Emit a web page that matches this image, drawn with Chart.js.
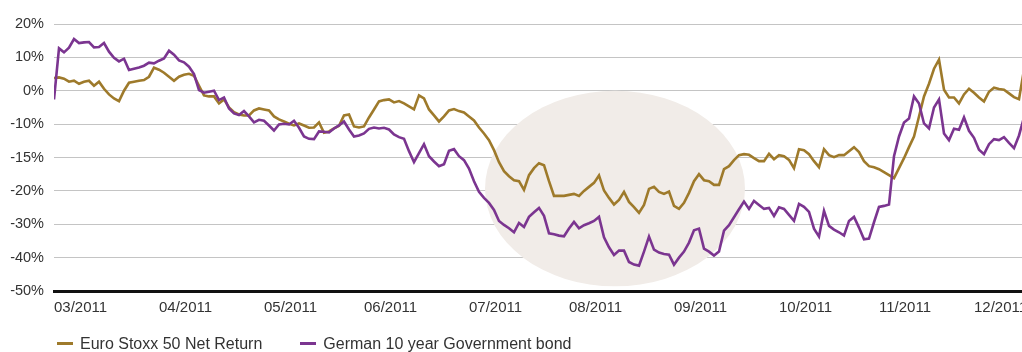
<!DOCTYPE html>
<html>
<head>
<meta charset="utf-8">
<script src="https://cdn.jsdelivr.net/npm/chart.js@4/dist/chart.umd.min.js"></script>
<style>
    body { margin: 0; background: #fff; }
    #wrap { position: relative; width: 1022px; height: 352px; }
    #legend {
        position: absolute; left: 57px; top: 335px;
        font: 16px 'Liberation Sans', Arial, sans-serif; color: #333;
        display: flex; gap: 38px; white-space: nowrap;
    }
    #legend span.swatch {
        display: inline-block; width: 16px; height: 3px;
        vertical-align: middle; margin-right: 7px; margin-top: -2px;
    }
</style>
</head>
<body>
<div id="wrap">
    <canvas id="chart" width="1022" height="352"></canvas>
    <div id="legend"></div>
</div>
<script>
// series names
const seriesNames = ['Euro Stoxx 50 Net Return', 'German 10 year Government bond']

// month ticks (trading day index) and their labels
const monthTicks = [0, 21, 42, 62, 83, 103, 124, 145, 165, 184]
const monthLabels = ['03/2011', '04/2011', '05/2011', '06/2011', '07/2011', '08/2011', '09/2011', '10/2011', '11/2011', '12/2011']

// y gridlines run 20 .. -60 in steps of 10, printed with these labels
const yTickLabels = ['20%', '10%', '0%', '-10%', '-15%', '-20%', '-30%', '-40%', '-50%']

// daily values, one per trading day
const euroStoxx = [
    3.8, 4.0, 3.6, 2.7, 3.0, 2.1, 2.7, 3.0, 1.5, 2.7,
    0.6, -1.1, -2.3, -3.1, 0.0, 2.4, 2.7, 3.0, 3.2, 4.2,
    6.9, 6.3, 5.4, 4.2, 3.0, 4.2, 4.8, 5.1, 4.5, 1.5,
    -1.4, -1.7, -1.7, -3.8, -2.6, -5.0, -6.4, -7.1, -7.4, -7.4,
    -5.9, -5.3, -5.6, -5.9, -7.7, -8.6, -9.2, -9.9, -10.4, -9.8,
    -10.4, -11.1, -11.0, -9.5, -12.6, -12.2, -11.3, -10.5, -7.4, -7.1,
    -10.7, -11.0, -10.7, -8.0, -5.6, -3.2, -2.8, -2.6, -3.5, -3.1,
    -3.8, -4.7, -5.6, -1.4, -2.3, -5.6, -7.4, -9.2, -7.7, -5.9,
    -5.5, -6.1, -6.5, -7.7, -8.9, -11.0, -12.8, -14.8, -17.8, -21.4,
    -24.1, -25.6, -26.8, -27.1, -29.7, -25.3, -23.2, -21.7, -22.3, -27.1,
    -31.5, -31.5, -31.5, -31.2, -30.9, -31.5, -30.0, -28.8, -27.6, -25.4,
    -29.9, -32.1, -34.1, -32.7, -30.3, -33.3, -34.9, -36.6, -34.2, -29.4,
    -28.8, -30.3, -30.9, -30.2, -34.5, -35.4, -33.6, -30.6, -27.1, -25.0,
    -26.8, -27.1, -28.2, -28.2, -23.5, -22.6, -20.8, -19.3, -19.0, -19.2,
    -20.2, -21.1, -21.1, -18.9, -20.5, -19.3, -19.6, -20.7, -23.2, -17.5,
    -17.8, -19.0, -21.1, -22.9, -17.5, -19.3, -19.9, -19.3, -19.3, -18.1,
    -16.9, -18.4, -21.1, -22.6, -22.9, -23.5, -24.4, -25.3, -26.2, -23.2,
    -20.2, -16.9, -13.7, -7.7, -1.7, 2.1, 6.6, 9.3, 0.3, -2.0,
    -2.0, -3.8, -1.1, 0.6, -0.6, -2.0, -3.2, -0.3, 0.9, 0.5,
    0.3, -0.8, -1.9, -2.5, 6.3
]

const germanBond = [
    -2.6, 12.7, 11.5, 12.9, 15.5, 14.3, 14.5, 14.6, 13.0, 13.1,
    14.3, 11.7, 9.9, 8.8, 9.6, 6.2, 6.6, 7.0, 7.5, 8.4,
    8.2, 9.0, 9.7, 12.0, 10.8, 9.1, 8.5, 7.2, 5.0, 0.2,
    -0.6, -0.3, 0.0, -2.8, -2.0, -5.3, -6.8, -7.3, -6.1, -7.7,
    -9.5, -8.7, -9.0, -10.4, -11.9, -10.1, -9.9, -10.1, -9.0, -11.1,
    -13.7, -14.4, -14.5, -12.2, -12.3, -12.5, -11.3, -10.4, -9.2, -11.6,
    -13.7, -13.4, -12.8, -11.4, -11.0, -11.3, -11.1, -11.6, -13.1, -13.9,
    -14.4, -18.1, -21.4, -18.7, -16.0, -19.6, -21.2, -22.6, -22.0, -18.0,
    -17.5, -19.6, -20.8, -23.3, -27.1, -30.3, -32.1, -33.6, -35.7, -39.0,
    -40.2, -41.2, -42.4, -39.6, -40.8, -37.8, -36.4, -35.1, -37.5, -42.7,
    -43.0, -43.4, -43.6, -41.3, -39.3, -41.2, -40.3, -39.7, -39.0, -37.8,
    -43.9, -46.9, -49.2, -47.9, -47.9, -51.3, -52.1, -52.4, -48.2, -43.7,
    -47.6, -48.5, -48.9, -49.1, -52.1, -50.0, -48.2, -45.5, -41.8, -41.3,
    -47.3, -48.2, -49.4, -48.2, -41.9, -40.3, -37.9, -35.5, -33.2, -35.4,
    -33.0, -34.2, -35.4, -35.1, -37.5, -34.9, -35.4, -37.2, -39.0, -33.9,
    -34.8, -36.3, -41.3, -43.7, -36.0, -40.5, -41.6, -42.4, -43.4, -39.0,
    -37.8, -41.0, -44.5, -44.3, -39.4, -34.8, -34.5, -34.1, -19.6, -13.7,
    -9.5, -8.3, -1.7, -3.8, -9.8, -11.3, -5.0, -2.6, -12.8, -14.8,
    -11.4, -11.7, -8.0, -12.0, -14.1, -17.7, -19.0, -16.0, -14.5, -14.8,
    -13.9, -15.6, -17.2, -13.4, -8.0
]
//--------------------------------------------------------------------------------

const colors = ['#9e7a2b', '#7b3590']
const fontFamily = "'Liberation Sans', Arial, sans-serif"

// shaded oval behind the summer sell-off (x in trading days, y in axis units)
const oval = { x0: 86.2, x1: 138.2, y0: 0, y1: -58.6, color: '#f1ece8' }

const ovalPlugin = {
    id: 'oval',
    beforeDatasetsDraw(chart) {
        const { ctx, scales: { x, y } } = chart
        const left = x.getPixelForValue(oval.x0)
        const right = x.getPixelForValue(oval.x1)
        const top = y.getPixelForValue(oval.y0)
        const bottom = y.getPixelForValue(oval.y1)
        ctx.save()
        ctx.fillStyle = oval.color
        ctx.beginPath()
        ctx.ellipse((left + right) / 2, (top + bottom) / 2, (right - left) / 2, (bottom - top) / 2, 0, 0, Math.PI * 2)
        ctx.fill()
        ctx.restore()
    }
}

function toPoints(values) {
    return values.map((v, i) => ({ x: i, y: v }))
}

const ctx = document.getElementById('chart').getContext('2d')
const chart = new Chart(ctx, {
    type: 'line',
    data: {
        datasets: [
            {
                label: seriesNames[0],
                data: toPoints(euroStoxx),
                borderColor: colors[0],
                borderWidth: 2.6,
                pointRadius: 0,
                tension: 0,
                order: 2
            },
            {
                label: seriesNames[1],
                data: toPoints(germanBond),
                borderColor: colors[1],
                borderWidth: 2.6,
                pointRadius: 0,
                tension: 0,
                order: 1
            }
        ]
    },
    options: {
        responsive: false,
        animation: false,
        events: [],
        layout: { padding: { top: 24, bottom: 27, left: 0, right: 0 } },
        plugins: {
            legend: { display: false },
            tooltip: { enabled: false }
        },
        scales: {
            x: {
                type: 'linear',
                min: 0,
                max: 193.6,
                grid: { display: false, drawTicks: false },
                border: { display: true, color: '#111', width: 3 },
                afterBuildTicks: (scale) => {
                    scale.ticks = monthTicks.map(v => ({ value: v }))
                },
                afterFit: (scale) => {
                    // let the last month label run off the edge
                    scale.paddingLeft = 0
                    scale.paddingRight = 0
                },
                ticks: {
                    autoSkip: false,
                    maxRotation: 0,
                    align: 'start',
                    padding: 8,
                    color: '#333',
                    font: { family: fontFamily, size: 15 },
                    callback: (value) => monthLabels[monthTicks.indexOf(value)]
                }
            },
            y: {
                min: -60,
                max: 20,
                afterFit: (scale) => { scale.width = 54 },
                grid: { color: '#c4c4c4', lineWidth: 1, drawTicks: false },
                border: { display: false },
                ticks: {
                    stepSize: 10,
                    padding: 10,
                    color: '#333',
                    font: { family: fontFamily, size: 14.5 },
                    callback: (value) => yTickLabels[Math.round((20 - value) / 10)]
                }
            }
        }
    },
    plugins: [ovalPlugin]
})

// legend underneath, built from the datasets
const legend = document.getElementById('legend')
legend.innerHTML = chart.data.datasets.map(ds =>
    `<div><span class="swatch" style="background:${ds.borderColor}"></span>${ds.label}</div>`
).join('')
</script>
</body>
</html>
